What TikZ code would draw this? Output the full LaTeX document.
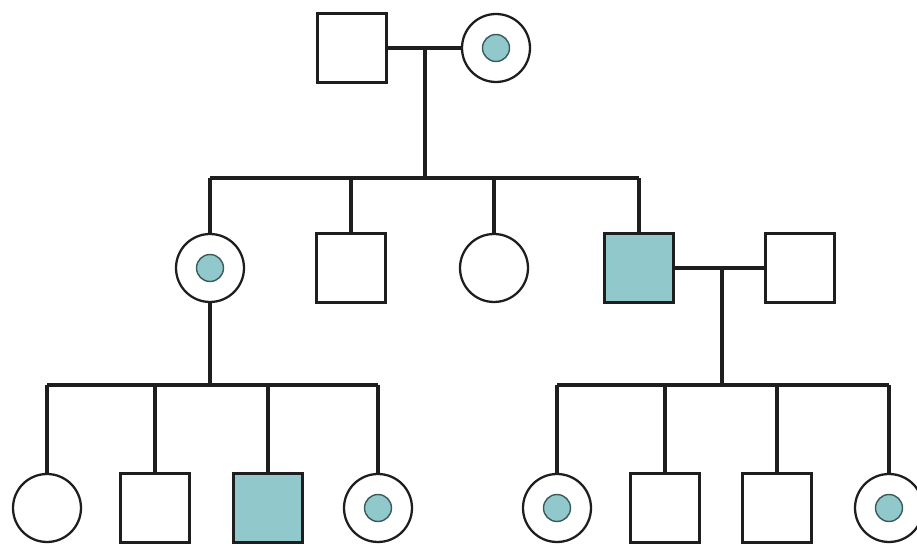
\documentclass[tikz,border=0pt]{standalone}
\definecolor{aff}{HTML}{90C8CC}
\definecolor{lncol}{HTML}{1E1E1E}
\definecolor{dotedge}{HTML}{3A5A5C}
\tikzset{
  sq/.style={draw=lncol, rectangle, line width=2.1pt, minimum size=1.38cm, inner sep=0pt, fill=white},
  affsq/.style={sq, fill=aff},
  fem/.style={draw=lncol, circle, line width=1.3pt, minimum size=1.36cm, inner sep=0pt, fill=white},
  cdot/.style={draw=dotedge, fill=aff, circle, line width=0.8pt, minimum size=0.54cm, inner sep=0pt},
  ln/.style={line width=2pt, draw=lncol}
}
\begin{document}
\begin{tikzpicture}[x=0.02cm,y=-0.02cm]
\useasboundingbox (0,0) rectangle (917,546);
% generation I
\node[sq] (I1) at (352,48) {};
\node[fem] (I2) at (496,48) {};
\node[cdot] (I2d) at (I2) {};
\coordinate (mI) at (425,48);
\coordinate (sib1) at (425,178);
% generation II
\node[fem] (II1) at (210,268) {};
\node[cdot] (II1d) at (II1) {};
\node[sq] (II2) at (351,268) {};
\node[fem] (II3) at (494,268) {};
\node[affsq] (II4) at (639,268) {};
\node[sq] (II5) at (800,268) {};
\coordinate (mII) at (722,268);
\coordinate (sib2) at (722,385);
\coordinate (sib3) at (210,385);
% generation III
\node[fem] (III1) at (47,508) {};
\node[sq] (III2) at (155,508) {};
\node[affsq] (III3) at (268,508) {};
\node[fem] (III4) at (378,508) {};
\node[cdot] (III4d) at (III4) {};
\node[fem] (III5) at (557,508) {};
\node[cdot] (III5d) at (III5) {};
\node[sq] (III6) at (665,508) {};
\node[sq] (III7) at (777,508) {};
\node[fem] (III8) at (889,508) {};
\node[cdot] (III8d) at (III8) {};
% connectors generation I
\draw[ln] (I1.east) -- (I2.west);
\draw[ln] (mI) -- (sib1);
\draw[ln] (II1.north |- sib1) -- (II4.north |- sib1);
\draw[ln] (II1.north |- sib1) -- (II1.north);
\draw[ln] (II2.north |- sib1) -- (II2.north);
\draw[ln] (II3.north |- sib1) -- (II3.north);
\draw[ln] (II4.north |- sib1) -- (II4.north);
% connectors generation II
\draw[ln] (II4.east) -- (II5.west);
\draw[ln] (mII) -- (sib2);
\draw[ln] (II1.south) -- (sib3);
\draw[ln] (III1.north |- sib3) -- (III4.north |- sib3);
\draw[ln] (III1.north |- sib3) -- (III1.north);
\draw[ln] (III2.north |- sib3) -- (III2.north);
\draw[ln] (III3.north |- sib3) -- (III3.north);
\draw[ln] (III4.north |- sib3) -- (III4.north);
\draw[ln] (III5.north |- sib2) -- (III8.north |- sib2);
\draw[ln] (III5.north |- sib2) -- (III5.north);
\draw[ln] (III6.north |- sib2) -- (III6.north);
\draw[ln] (III7.north |- sib2) -- (III7.north);
\draw[ln] (III8.north |- sib2) -- (III8.north);
\end{tikzpicture}
\end{document}
